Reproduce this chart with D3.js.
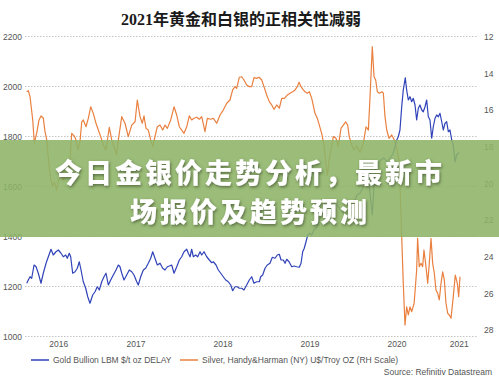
<!DOCTYPE html>
<html><head><meta charset="utf-8">
<script src="https://cdn.jsdelivr.net/npm/d3@7"></script>
<style>
html,body{margin:0;padding:0;background:#fff;}
svg{display:block;}
</style></head><body>
<svg id="c" width="499" height="379"></svg>
<script>
const title = "2021年黄金和白银的正相关性减弱";
const overlayLines = ["今日金银价走势分析，最新市", "场报价及趋势预测"];
const years = [2016, 2017, 2018, 2019, 2020, 2021];
const leftTicks = [1000, 1200, 1400, 1600, 1800, 2000, 2200];
const rightTicks = [12, 14, 16, 18, 20, 22, 24, 26, 28];
const legendLabels = ["Gold Bullion LBM $/t oz DELAY", "Silver, Handy&Harman (NY) U$/Troy OZ (RH Scale)"];
const sourceText = "Source: Refinitiv Datastream";

const goldT = [2016.244,2016.262,2016.282,2016.301,2016.328,2016.351,2016.377,2016.408,2016.434,2016.466,2016.492,2016.523,2016.549,2016.580,2016.607,2016.634,2016.664,2016.692,2016.710,2016.733,2016.749,2016.772,2016.799,2016.825,2016.848,2016.868,2016.894,2016.922,2016.945,2016.971,2017.002,2017.029,2017.055,2017.078,2017.106,2017.132,2017.155,2017.182,2017.209,2017.239,2017.270,2017.297,2017.316,2017.336,2017.362,2017.393,2017.423,2017.451,2017.477,2017.508,2017.526,2017.554,2017.584,2017.611,2017.641,2017.669,2017.692,2017.718,2017.745,2017.776,2017.807,2017.833,2017.860,2017.883,2017.910,2017.937,2017.968,2017.998,2018.025,2018.052,2018.083,2018.101,2018.121,2018.140,2018.159,2018.186,2018.209,2018.236,2018.255,2018.282,2018.313,2018.343,2018.370,2018.389,2018.420,2018.446,2018.474,2018.503,2018.531,2018.561,2018.589,2018.611,2018.638,2018.664,2018.687,2018.715,2018.741,2018.772,2018.802,2018.830,2018.856,2018.887,2018.917,2018.933,2018.956,2018.983,2019.009,2019.040,2019.067,2019.098,2019.124,2019.147,2019.167,2019.193,2019.213,2019.232,2019.259,2019.290,2019.316,2019.347,2019.377,2019.397,2019.416,2019.434,2019.454,2019.474,2019.500,2019.520,2019.546,2019.569,2019.595,2019.638,2019.684,2019.718,2019.764,2019.810,2019.856,2019.902,2019.948,2019.994,2020.040,2020.075,2020.113,2020.152,2020.182,2020.216,2020.247,2020.282,2020.316,2020.351,2020.385,2020.420,2020.454,2020.497,2020.515,2020.534,2020.554,2020.572,2020.595,2020.611,2020.630,2020.649,2020.669,2020.687,2020.707,2020.726,2020.745,2020.764,2020.784,2020.802,2020.822,2020.841,2020.860,2020.879,2020.899,2020.917,2020.937,2020.956,2020.975,2020.994,2021.014,2021.032,2021.052,2021.071,2021.090,2021.109,2021.129,2021.147,2021.167,2021.186,2021.205,2021.217];
const goldV = [1213,1226,1239,1233,1286,1279,1253,1213,1253,1293,1319,1349,1326,1339,1346,1335,1319,1326,1313,1333,1319,1253,1259,1273,1299,1266,1219,1193,1159,1133,1166,1179,1199,1186,1219,1239,1253,1206,1226,1246,1266,1286,1279,1253,1226,1246,1266,1259,1246,1219,1206,1239,1266,1273,1293,1313,1339,1313,1286,1293,1273,1266,1279,1282,1286,1253,1279,1306,1319,1339,1349,1333,1319,1349,1319,1326,1319,1339,1326,1339,1319,1306,1295,1299,1286,1266,1253,1239,1226,1219,1206,1183,1199,1199,1193,1193,1186,1206,1226,1239,1213,1219,1219,1239,1246,1273,1286,1293,1317,1313,1326,1329,1306,1306,1293,1309,1299,1279,1282,1279,1277,1293,1339,1353,1379,1406,1413,1406,1426,1433,1453,1498,1544,1526,1518,1526,1506,1486,1498,1526,1566,1573,1599,1639,1599,1486,1666,1694,1706,1714,1698,1714,1730,1786,1799,1826,1919,1986,2035,1986,1946,1959,1939,1953,1926,1866,1913,1926,1906,1899,1919,1946,1879,1866,1793,1839,1873,1886,1879,1893,1859,1826,1853,1859,1819,1826,1786,1766,1699,1726,1733,1735];

const silverT = [2016.244,2016.262,2016.282,2016.313,2016.331,2016.359,2016.385,2016.408,2016.434,2016.454,2016.474,2016.494,2016.517,2016.540,2016.563,2016.586,2016.609,2016.638,2016.667,2016.695,2016.718,2016.741,2016.761,2016.791,2016.810,2016.833,2016.856,2016.876,2016.894,2016.925,2016.952,2016.979,2017.009,2017.040,2017.067,2017.094,2017.124,2017.155,2017.193,2017.221,2017.259,2017.276,2017.297,2017.336,2017.374,2017.411,2017.451,2017.489,2017.515,2017.546,2017.572,2017.592,2017.615,2017.641,2017.669,2017.692,2017.718,2017.745,2017.776,2017.807,2017.833,2017.860,2017.899,2017.937,2017.968,2017.998,2018.025,2018.052,2018.083,2018.113,2018.140,2018.167,2018.198,2018.228,2018.255,2018.293,2018.320,2018.359,2018.389,2018.428,2018.466,2018.503,2018.543,2018.580,2018.611,2018.638,2018.657,2018.687,2018.715,2018.741,2018.772,2018.802,2018.830,2018.856,2018.887,2018.914,2018.945,2018.971,2019.002,2019.032,2019.060,2019.086,2019.117,2019.147,2019.175,2019.205,2019.239,2019.270,2019.301,2019.328,2019.354,2019.374,2019.397,2019.423,2019.443,2019.469,2019.492,2019.520,2019.557,2019.584,2019.607,2019.634,2019.661,2019.684,2019.701,2019.718,2019.741,2019.768,2019.799,2019.825,2019.856,2019.883,2019.910,2019.933,2019.951,2019.979,2020.006,2020.040,2020.075,2020.113,2020.144,2020.171,2020.190,2020.216,2020.236,2020.255,2020.274,2020.297,2020.328,2020.343,2020.362,2020.382,2020.408,2020.439,2020.469,2020.500,2020.523,2020.540,2020.554,2020.572,2020.592,2020.611,2020.630,2020.649,2020.669,2020.697,2020.726,2020.737,2020.756,2020.776,2020.795,2020.810,2020.833,2020.853,2020.871,2020.891,2020.910,2020.929,2020.948,2020.968,2020.986,2021.006,2021.025,2021.044,2021.063,2021.083,2021.101,2021.121,2021.147,2021.170,2021.193,2021.209,2021.224];
const silverV = [14.99,14.93,15.26,16.53,17.80,17.24,16.53,16.31,16.42,17.17,17.62,18.72,19.70,20.14,19.92,20.36,19.81,19.59,19.81,19.37,19.59,18.72,17.26,17.41,17.62,18.17,17.73,16.63,16.53,16.90,16.44,15.81,16.17,16.71,17.08,17.44,17.90,18.17,16.93,17.62,18.17,18.44,17.62,16.35,16.71,17.44,16.81,16.63,15.44,16.35,16.71,16.31,16.99,17.08,17.62,17.99,17.44,16.90,16.81,17.08,16.81,16.99,16.53,15.81,16.26,16.90,17.08,17.26,16.90,16.31,16.53,16.44,16.38,16.49,16.35,17.17,16.44,16.49,16.44,16.71,16.26,15.99,15.62,15.44,14.89,14.71,14.80,14.20,14.17,14.35,14.62,14.71,14.71,14.22,14.26,14.20,14.35,14.71,15.17,15.53,15.71,15.95,15.71,15.89,15.35,15.35,15.17,15.07,14.99,14.89,14.71,14.47,14.71,14.89,14.99,15.07,14.99,15.35,16.17,16.44,16.81,17.26,17.90,18.99,19.59,18.72,18.17,17.44,17.53,17.99,16.99,16.81,16.63,16.81,17.44,17.90,18.17,17.95,18.28,17.80,16.90,17.08,15.26,12.53,14.17,14.35,14.99,15.07,14.99,15.07,16.35,17.08,17.53,17.35,17.62,18.17,18.72,20.90,22.91,25.45,27.73,26.73,27.18,26.73,27.00,26.54,24.72,22.99,24.54,24.36,24.54,23.63,24.54,25.45,24.36,22.99,24.36,24.90,25.82,26.00,26.36,25.45,24.82,25.27,26.54,27.09,27.18,27.36,26.18,25.00,25.45,26.18,25.09];

const svg = d3.select("#c");
const W = 499, H = 379;
const plot = {left: 25, right: 478, top: 36.5, bottom: 336.5};
const x = d3.scaleLinear().domain([2016.224, 2021.431]).range([plot.left, plot.right]);
const yL = d3.scaleLinear().domain([1000, 2200]).range([plot.bottom, plot.top]);
const yR = d3.scaleLinear().domain([12, 28]).range([37, 330]);

const labelColor = "#555";
const labelFont = "Liberation Sans, Arial, sans-serif";

// defs: shadow filter
const defs = svg.append("defs");
const f = defs.append("filter").attr("id", "sh").attr("x", "-10%").attr("y", "-30%").attr("width", "120%").attr("height", "160%");
f.append("feDropShadow").attr("dx", 1).attr("dy", 1.5).attr("stdDeviation", 1.5)
  .attr("flood-color", "#3a4a2a").attr("flood-opacity", 0.7);

// title
svg.append("text").attr("x", 241).attr("y", 19).attr("text-anchor", "middle")
  .attr("dominant-baseline", "central")
  .attr("font-family", "Liberation Serif, 'Noto Sans CJK SC', serif")
  .attr("font-weight", "bold").attr("font-size", 16).attr("fill", "#1a1a1a")
  .text(title);

// gridlines
svg.append("g").selectAll("line").data(leftTicks).join("line")
  .attr("x1", plot.left).attr("x2", plot.right)
  .attr("y1", d => yL(d)).attr("y2", d => yL(d))
  .attr("stroke", "#c4c4c4").attr("stroke-width", 1).attr("stroke-dasharray", "1.5,1.5");

// axes labels
const gL = svg.append("g").attr("transform", `translate(${plot.left},0)`)
  .call(d3.axisLeft(yL).tickValues(leftTicks).tickSize(0).tickPadding(3).tickFormat(d3.format("d")));
const gR = svg.append("g").attr("transform", `translate(${plot.right + 3},0)`)
  .call(d3.axisRight(yR).tickValues(rightTicks).tickSize(0).tickPadding(3).tickFormat(d3.format("d")));
[gL, gR].forEach(g => {
  g.select(".domain").remove();
  g.selectAll("text").attr("font-family", labelFont).attr("font-size", 8.5).attr("fill", labelColor);
});

// x-axis year labels centered in visible portion of each year
const [d0, d1] = x.domain();
const xg = svg.append("g");
xg.selectAll("text").data(years).join("text")
  .attr("x", d => (x(Math.max(d, d0)) + x(Math.min(d + 1, d1))) / 2)
  .attr("y", 347).attr("text-anchor", "middle")
  .attr("font-family", labelFont).attr("font-size", 8.5).attr("fill", labelColor)
  .text(d => d);

// series
const silverData = d3.range(Math.min(silverT.length, silverV.length)).map(i => [silverT[i], silverV[i]]);
const goldData = d3.range(Math.min(goldT.length, goldV.length)).map(i => [goldT[i], goldV[i]]);
const goldColor = "#3043b8", silverColor = "#e9803f";

svg.append("path").datum(silverData)
  .attr("d", d3.line().x(d => x(d[0])).y(d => yR(d[1])))
  .attr("fill", "none").attr("stroke", silverColor).attr("stroke-width", 1.2).attr("stroke-linejoin", "round");
svg.append("path").datum(goldData)
  .attr("d", d3.line().x(d => x(d[0])).y(d => yL(d[1])))
  .attr("fill", "none").attr("stroke", goldColor).attr("stroke-width", 1.2).attr("stroke-linejoin", "round");

// legend
const leg = svg.append("g");
const legItems = [{label: legendLabels[0], color: goldColor, x0: 31}, {label: legendLabels[1], color: silverColor, x0: 180}];
legItems.forEach(it => {
  leg.append("line").attr("x1", it.x0).attr("x2", it.x0 + 18).attr("y1", 360).attr("y2", 360)
    .attr("stroke", it.color).attr("stroke-width", 1.5);
  leg.append("text").attr("x", it.x0 + 22).attr("y", 360).attr("dominant-baseline", "central")
    .attr("font-family", labelFont).attr("font-size", 8.5).attr("fill", labelColor).text(it.label);
});
svg.append("text").attr("x", 492).attr("y", 372).attr("dominant-baseline", "central").attr("text-anchor", "end")
  .attr("font-family", labelFont).attr("font-size", 8.5).attr("fill", labelColor).text(sourceText);

// overlay band
svg.append("rect").attr("x", 0).attr("y", 140).attr("width", W).attr("height", 97)
  .attr("fill", "rgb(141,180,102)").attr("fill-opacity", 0.88);
svg.append("g").selectAll("text").data(overlayLines).join("text")
  .attr("x", 250).attr("y", (d, i) => 171 + i * 39.5)
  .attr("text-anchor", "middle").attr("dominant-baseline", "central")
  .attr("font-family", "'Noto Sans CJK SC', sans-serif").attr("font-weight", 900)
  .attr("font-size", 27).attr("letter-spacing", 3).attr("fill", "#fff").attr("filter", "url(#sh)")
  .text(d => d);
</script>
</body></html>
